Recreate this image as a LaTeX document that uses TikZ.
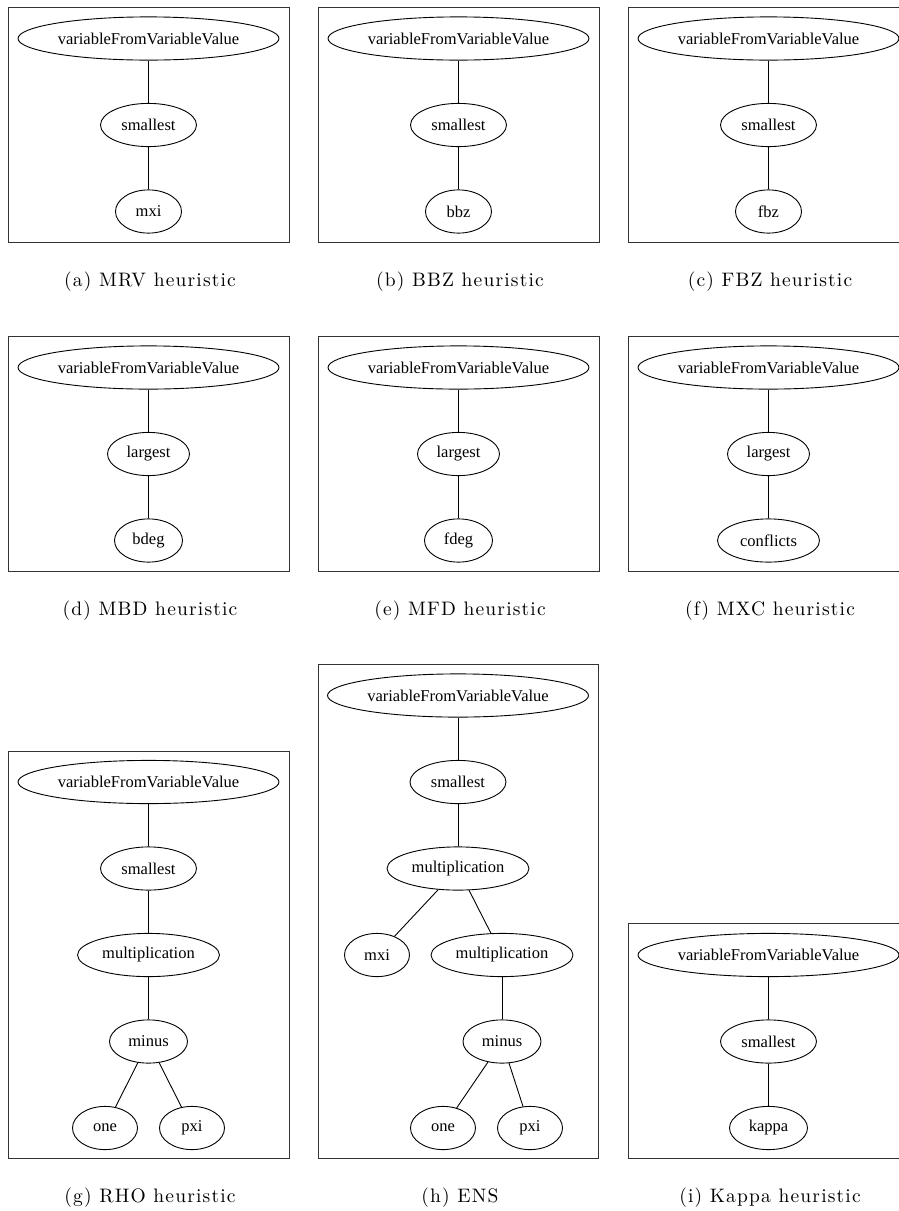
\documentclass[tikz,border=0pt]{standalone}
\usepackage{fontspec}
\usetikzlibrary{shapes.geometric}
\newfontfamily\gvfontfam{Liberation Serif}
\newfontfamily\capfontfam[LetterSpace=6]{lmroman10-regular.otf}
\newcommand\gvfont{\gvfontfam\fontsize{16.5pt}{18pt}\selectfont}
\newcommand\capfont{\capfontfam\fontsize{19.5pt}{22pt}\selectfont}
\tikzset{
  gv/.style={ellipse, draw, line width=0.9pt, inner sep=0pt, minimum height=43.2pt, font=\gvfont},
  topnode/.style={gv, minimum width=261pt},
  w/.style={minimum width=#1},
  gvedge/.style={draw, line width=0.9pt},
  boxframe/.style={draw=black!80, line width=1pt},
  captxt/.style={anchor=base, font=\capfont, inner sep=0pt}
}
\begin{document}
\begin{tikzpicture}[x=1pt, y=-1pt]
\useasboundingbox (0,0) rectangle (898,1211);
\fill[white] (0,0) rectangle (898,1211);

% ---------- Row 1 ----------
% (a)
\draw[boxframe] (8,7) rectangle (289,242);
\node[topnode] (a1) at (148.5,38.5) {variableFromVariableValue};
\node[gv, w=96pt] (a2) at (148.5,125) {smallest};
\node[gv, w=66pt] (a3) at (148.5,211.5) {mxi};
\draw[gvedge] (a1) -- (a2);
\draw[gvedge] (a2) -- (a3);
\node[captxt] (capa) at (150,286) {(a) MRV heuristic};
% (b)
\draw[boxframe] (318,7) rectangle (599,242);
\node[topnode] (b1) at (458.5,38.5) {variableFromVariableValue};
\node[gv, w=96pt] (b2) at (458.5,125) {smallest};
\node[gv, w=66pt] (b3) at (458.5,211.5) {bbz};
\draw[gvedge] (b1) -- (b2);
\draw[gvedge] (b2) -- (b3);
\node[captxt] (capb) at (460,286) {(b) BBZ heuristic};
% (c)
\draw[boxframe] (628,7) rectangle (909,242);
\node[topnode] (c1) at (768.5,38.5) {variableFromVariableValue};
\node[gv, w=96pt] (c2) at (768.5,125) {smallest};
\node[gv, w=66pt] (c3) at (768.5,211.5) {fbz};
\draw[gvedge] (c1) -- (c2);
\draw[gvedge] (c2) -- (c3);
\node[captxt] (capc) at (770,286) {(c) FBZ heuristic};

% ---------- Row 2 ----------
% (d)
\draw[boxframe] (8,336) rectangle (289,571);
\node[topnode] (d1) at (148.5,367.5) {variableFromVariableValue};
\node[gv, w=82pt] (d2) at (148.5,454) {largest};
\node[gv, w=68pt] (d3) at (148.5,540.5) {bdeg};
\draw[gvedge] (d1) -- (d2);
\draw[gvedge] (d2) -- (d3);
\node[captxt] (capd) at (150,615) {(d) MBD heuristic};
% (e)
\draw[boxframe] (318,336) rectangle (599,571);
\node[topnode] (e1) at (458.5,367.5) {variableFromVariableValue};
\node[gv, w=82pt] (e2) at (458.5,454) {largest};
\node[gv, w=68pt] (e3) at (458.5,540.5) {fdeg};
\draw[gvedge] (e1) -- (e2);
\draw[gvedge] (e2) -- (e3);
\node[captxt] (cape) at (460,615) {(e) MFD heuristic};
% (f)
\draw[boxframe] (628,336) rectangle (909,571);
\node[topnode] (f1) at (768.5,367.5) {variableFromVariableValue};
\node[gv, w=82pt] (f2) at (768.5,454) {largest};
\node[gv, w=102pt] (f3) at (768.5,540.5) {conflicts};
\draw[gvedge] (f1) -- (f2);
\draw[gvedge] (f2) -- (f3);
\node[captxt] (capf) at (770,615) {(f) MXC heuristic};

% ---------- Row 3 ----------
% (g)
\draw[boxframe] (8,751) rectangle (289,1158);
\node[topnode] (g1) at (148.5,782) {variableFromVariableValue};
\node[gv, w=96pt] (g2) at (148.5,868.5) {smallest};
\node[gv, w=142pt] (g3) at (148.5,955) {multiplication};
\node[gv, w=78pt] (g4) at (148.5,1041.5) {minus};
\node[gv, w=65pt] (g5) at (105,1128) {one};
\node[gv, w=65pt] (g6) at (192,1128) {pxi};
\draw[gvedge] (g1) -- (g2);
\draw[gvedge] (g2) -- (g3);
\draw[gvedge] (g3) -- (g4);
\draw[gvedge] (g4) -- (g5);
\draw[gvedge] (g4) -- (g6);
\node[captxt] (capg) at (150,1202) {(g) RHO heuristic};
% (h)
\draw[boxframe] (318,664) rectangle (598,1158);
\node[topnode] (h1) at (458,695.5) {variableFromVariableValue};
\node[gv, w=96pt] (h2) at (458,782) {smallest};
\node[gv, w=142pt] (h3) at (458,868.5) {multiplication};
\node[gv, w=65pt] (h4) at (377,955) {mxi};
\node[gv, w=142pt] (h5) at (502,955) {multiplication};
\node[gv, w=78pt] (h6) at (502,1041.5) {minus};
\node[gv, w=65pt] (h7) at (443,1128) {one};
\node[gv, w=65pt] (h8) at (530,1128) {pxi};
\draw[gvedge] (h1) -- (h2);
\draw[gvedge] (h2) -- (h3);
\draw[gvedge] (h3) -- (h4);
\draw[gvedge] (h3) -- (h5);
\draw[gvedge] (h5) -- (h6);
\draw[gvedge] (h6) -- (h7);
\draw[gvedge] (h6) -- (h8);
\node[captxt] (caph) at (460,1202) {(h) ENS};
% (i)
\draw[boxframe] (628,923) rectangle (909,1158);
\node[topnode] (i1) at (768.5,955) {variableFromVariableValue};
\node[gv, w=96pt] (i2) at (768.5,1041.5) {smallest};
\node[gv, w=78pt] (i3) at (768.5,1128) {kappa};
\draw[gvedge] (i1) -- (i2);
\draw[gvedge] (i2) -- (i3);
\node[captxt] (capi) at (770,1202) {(i) Kappa heuristic};
\end{tikzpicture}
\end{document}
